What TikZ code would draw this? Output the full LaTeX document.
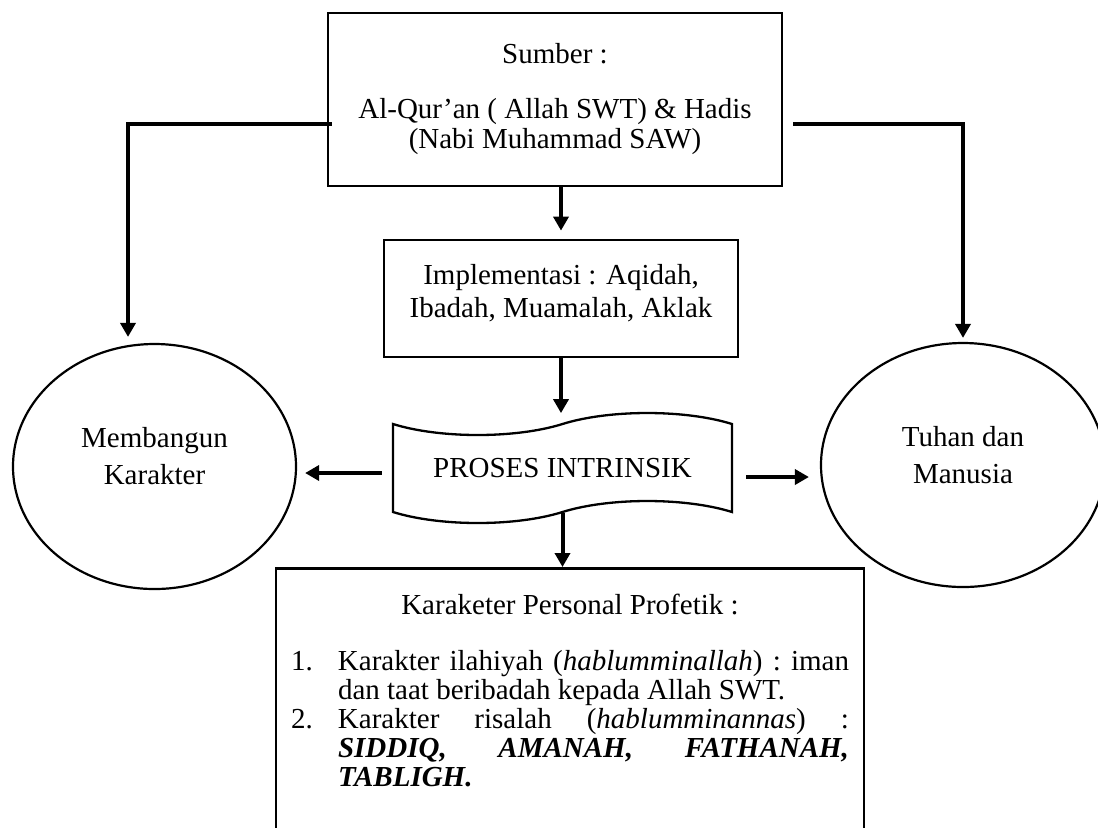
\documentclass[tikz,border=0pt]{standalone}
\usepackage{fontspec}
\setmainfont{Liberation Serif}
\usetikzlibrary{arrows.meta,shapes.geometric,shapes.symbols}

\begin{document}
\begin{tikzpicture}[x=0.5pt,y=-0.5pt,>={Triangle[width=7.5pt,length=7pt]},
    font=\fontsize{14.5}{16.7}\selectfont,
    kotak/.style={draw,line width=1.4pt,rectangle,inner sep=0},
    bulat/.style={draw,line width=1.1pt,ellipse,inner sep=0},
    panah/.style={->,line width=2pt}]
    \useasboundingbox (0,0) rectangle (1098,827);
    \path (555,99.5) node [kotak,minimum width=227pt,minimum height=86.5pt,align=center](sumber){Sumber :\\[10.8pt]Al-Qur’an ( Allah SWT) \& Hadis\\[-1.7pt](Nabi Muhammad SAW)};
    \path (561,298.5) node [kotak,minimum width=177pt,minimum height=58.5pt](impl){};
    \path ([yshift=2.8pt]impl.center) node [align=center,inner sep=0](timpl){Implementasi : Aqidah,\\Ibadah, Muamalah, Aklak};
    \path (562.5,468) node [draw,tape,line width=1.15pt,minimum width=169.5pt,minimum height=55pt,tape bend height=11pt,inner sep=0](proses){PROSES INTRINSIK};
    \path (154.5,466.5) node [bulat,minimum width=141.5pt,minimum height=122.5pt](membangun){};
    \path ([yshift=5pt]membangun.center) node [align=center,inner sep=0](tmembangun){Membangun\\[1.8pt]Karakter};
    \path (963,465) node [bulat,minimum width=142pt,minimum height=122pt](tuhan){};
    \path ([yshift=5pt]tuhan.center) node [align=center,inner sep=0](ttuhan){Tuhan dan\\[1.8pt]Manusia};
    \path (570,567) node [kotak,anchor=north,text width=279pt,align=justify,inner xsep=7.5pt,inner ysep=13pt](karakter){\fontsize{14.5}{14.5}\selectfont\frenchspacing\hyphenpenalty=10000
      {\centering Karaketer Personal Profetik :\par}
      \vspace{13.25pt}
      \hangindent=23.5pt\hangafter=1\noindent\makebox[23.5pt][l]{1.}Karakter ilahiyah (\textit{hablumminallah}) : iman\linebreak dan taat beribadah kepada Allah SWT.\par
      \hangindent=23.5pt\hangafter=1\noindent\makebox[23.5pt][l]{2.}Karakter risalah (\textit{hablumminannas}) :\linebreak \textbf{\textit{SIDDIQ, AMANAH, FATHANAH,}}\linebreak \textbf{\textit{TABLIGH.}}\par
      \vspace*{30pt}\mbox{}};
    \draw[panah,shorten <=-2.5pt,shorten >=3pt] ([yshift=-12.25pt]sumber.west) -| ([xshift=-13.25pt]membangun.north);
    \draw[panah,shorten <=5pt,shorten >=2pt] ([yshift=-12.25pt]sumber.east) -| (tuhan.north);
    \draw[panah,shorten >=4pt] (impl.north |- sumber.south) -- (impl.north);
    \draw[panah,shorten >=5pt] (impl.south) -- (impl.south |- proses.north);
    \draw[panah,shorten <=5pt,shorten >=4pt] ([yshift=-2.5pt]proses.west) -- ([yshift=-2.5pt]proses.west -| membangun.east);
    \draw[panah,shorten <=6.5pt,shorten >=5.5pt] ([yshift=-4.5pt]proses.east) -- ([yshift=-4.5pt]proses.east -| tuhan.west);
    \draw[panah] (proses.south) -- (proses.south |- karakter.north);
  \end{tikzpicture}
\end{document}
